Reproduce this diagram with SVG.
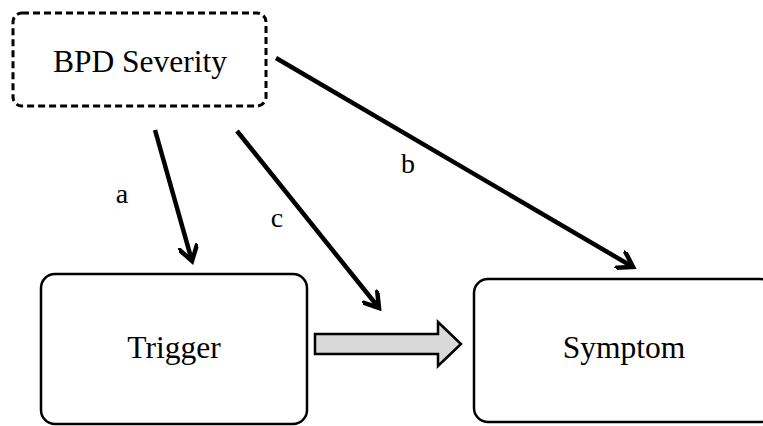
<svg xmlns="http://www.w3.org/2000/svg" width="763" height="426" viewBox="0 0 763 426">
<style>
.box{fill:#fff;stroke:#000;stroke-width:2.5}
.dash{stroke-width:3;stroke-dasharray:7 4}
.lbl{font-family:"Liberation Serif","Times New Roman",serif;fill:#000}
.conn{stroke:#000;stroke-width:4.5;fill:none;marker-end:url(#chev)}
</style>
<defs>
<marker id="chev" viewBox="0 0 20 20" refX="16" refY="10" markerWidth="20" markerHeight="20" markerUnits="userSpaceOnUse" orient="auto">
<polyline points="2,1 16,10 2,19" fill="none" stroke="#000" stroke-width="4.5" stroke-linecap="round" stroke-linejoin="miter"/>
</marker>
</defs>
<rect width="763" height="426" fill="#fff"/>
<g id="bpd">
<rect class="box dash" x="13" y="13" width="253" height="93" rx="9"/>
<text class="lbl" x="140" y="72" font-size="31.5" text-anchor="middle">BPD Severity</text>
</g>
<g id="trigger">
<rect class="box" x="41" y="274" width="266" height="150" rx="14"/>
<text class="lbl" x="174" y="358" font-size="31.5" text-anchor="middle">Trigger</text>
</g>
<g id="symptom">
<rect class="box" x="474" y="279" width="300" height="143" rx="14"/>
<text class="lbl" x="624" y="358" font-size="31.5" text-anchor="middle">Symptom</text>
</g>
<g id="connectors">
<line class="conn" x1="155" y1="130" x2="192" y2="261"/>
<line class="conn" x1="237" y1="131" x2="379" y2="308"/>
<line class="conn" x1="276" y1="58" x2="633" y2="267"/>
<polygon points="315,334 438,334 438,322 461,344 438,366 438,354 315,354" fill="#d9d9d9" stroke="#000" stroke-width="2.5" stroke-linejoin="miter"/>
</g>
<g id="labels">
<text class="lbl" x="122" y="203" font-size="28" text-anchor="middle">a</text>
<text class="lbl" x="277" y="227" font-size="28" text-anchor="middle">c</text>
<text class="lbl" x="408" y="173" font-size="28" text-anchor="middle">b</text>
</g>
</svg>
